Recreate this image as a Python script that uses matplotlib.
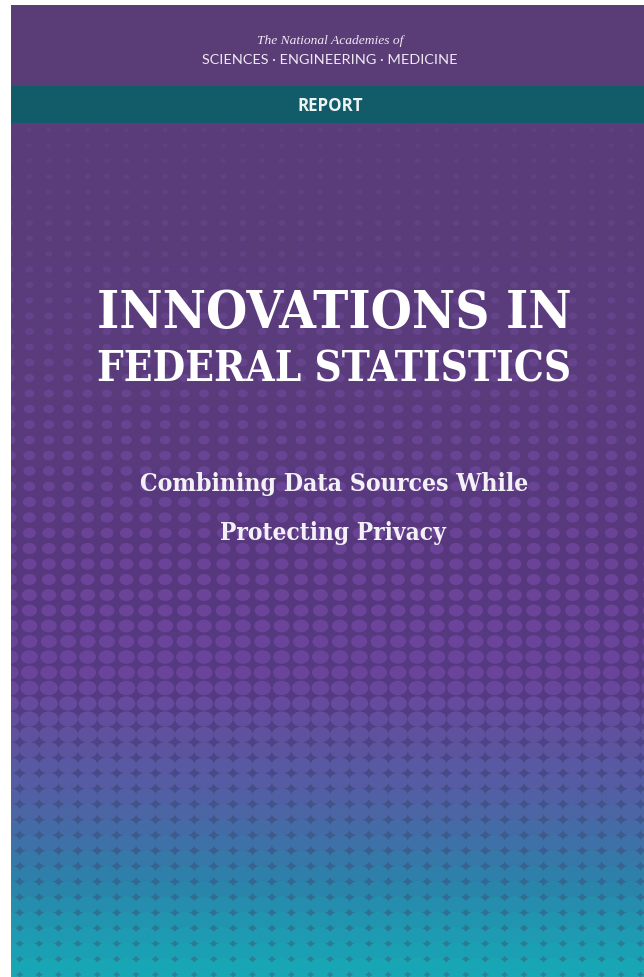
import numpy as np
import matplotlib
matplotlib.use("Agg")
import matplotlib.pyplot as plt
from matplotlib.collections import EllipseCollection
from matplotlib.colors import LinearSegmentedColormap
from matplotlib.patches import Rectangle

# page geometry in pixels (y grows downwards)
W, H = 644, 977
LEFT, TOP = 11, 5
HEADER_BOTTOM = 86
BAND_BOTTOM = 123

header_lines = ["The National Academies of", "SCIENCES \u00b7 ENGINEERING \u00b7 MEDICINE"]
band_label = "REPORT"
title_lines = ["INNOVATIONS IN", "FEDERAL STATISTICS"]
subtitle_lines = ["Combining Data Sources While", "Protecting Privacy"]

# dot size (width in px) for each row of the halftone pattern, top to bottom
dot_row_width = [5, 5, 6, 6, 6, 6, 7, 7, 7, 8, 8, 8,
                 9, 9, 9, 10, 10, 10, 11, 11, 11, 12,
                 12, 12, 13, 13, 13, 14, 14, 14, 15, 15,
                 16, 16, 17, 17, 18, 18, 19,
                 19.6,
                 20, 20.3, 20.5, 20.6, 20.7, 20.8, 20.9, 21,
                 21.2, 21.4, 21.6, 21.8, 22, 22.3, 22.6, 23]

# colour stops (y position, colour) for the background and the dots
bg_stop_y = [123, 400, 600, 700, 760, 820, 880, 940, 977]
bg_stop_c = ["#5a3d7a", "#5a3b7c", "#573880", "#553b84", "#4b4788",
             "#41578c", "#356791", "#2b7a95", "#288397"]
dot_stop_y = [123, 300, 450, 600, 680, 760, 820, 880, 940, 977]
dot_stop_c = ["#5e4180", "#634389", "#684494", "#6b4399", "#6a449b",
              "#5b56a1", "#4a67a6", "#2c81a9", "#1d9cb2", "#18a8b5"]


def make_cmap(name, ys, cs):
    pos = [(y - BAND_BOTTOM) / (H - BAND_BOTTOM) for y in ys]
    return LinearSegmentedColormap.from_list(name, list(zip(pos, cs)))


def fit_width(txt, target):
    """rescale a text so its rendered width equals target pixels"""
    r = fig.canvas.get_renderer()
    w = txt.get_window_extent(r).width
    txt.set_fontsize(txt.get_fontsize() * target / w)


fig = plt.figure(figsize=(W / 100, H / 100), dpi=100)
ax = fig.add_axes([0, 0, 1, 1])

# header and report band
ax.add_patch(Rectangle((LEFT, TOP), W - LEFT, HEADER_BOTTOM - TOP,
                       facecolor="#5a3c77", lw=0, zorder=2))
ax.add_patch(Rectangle((LEFT, HEADER_BOTTOM), W - LEFT, BAND_BOTTOM - HEADER_BOTTOM,
                       facecolor="#125c69", lw=0, zorder=2))

# gradient background of the main panel
bg_cmap = make_cmap("bg", bg_stop_y, bg_stop_c)
ax.imshow(np.linspace(0, 1, 600)[:, None], extent=(LEFT, W, H, BAND_BOTTOM),
          cmap=bg_cmap, aspect="auto", interpolation="bilinear", zorder=1)

# halftone dots
dot_cmap = make_cmap("dots", dot_stop_y, dot_stop_c)
col_x = 10 + 19.4 * np.arange(35)
row_y = 130 + 15.5 * np.arange(len(dot_row_width))
xx, yy = np.meshgrid(col_x, row_y)
ww = np.repeat(np.array(dot_row_width, dtype=float)[:, None], len(col_x), axis=1)
hh = ww * 0.8
cols = dot_cmap(np.clip((yy - BAND_BOTTOM) / (H - BAND_BOTTOM), 0, 1).ravel())
ec = EllipseCollection(ww.ravel(), hh.ravel(), np.zeros(ww.size), units="xy",
                       offsets=np.column_stack([xx.ravel(), yy.ravel()]),
                       offset_transform=ax.transData, facecolors=cols,
                       edgecolors="none", zorder=3)
ax.add_collection(ec)
clip = Rectangle((LEFT, BAND_BOTTOM), W - LEFT, H - BAND_BOTTOM, transform=ax.transData)
ec.set_clip_path(clip)

ax.set_xlim(0, W)
ax.set_ylim(H, 0)
ax.axis("off")

cx = 330
t1 = ax.text(cx, 44, header_lines[0], ha="center", va="baseline", color="#efe9f4",
             family="Liberation Serif", style="italic", fontsize=11, zorder=5)
t2 = ax.text(cx, 64, header_lines[1], ha="center", va="baseline", color="#efe9f4",
             family="Lato", fontsize=11, zorder=5)
t3 = ax.text(cx, 111, band_label, ha="center", va="baseline", color="#eef3f4",
             family="Open Sans", weight="bold", fontsize=12, zorder=5)

tx = 334.5
ttl = [ax.text(tx, 328, title_lines[0], ha="center", va="baseline", color="white",
               family="DejaVu Serif", weight="bold", stretch="condensed", fontsize=30, zorder=5),
       ax.text(tx, 381, title_lines[1], ha="center", va="baseline", color="white",
               family="DejaVu Serif", weight="bold", stretch="condensed", fontsize=30, zorder=5)]
sub = [ax.text(334, 491, subtitle_lines[0], ha="center", va="baseline", color="#f3f0f6",
               family="DejaVu Serif", weight="bold", stretch="condensed", fontsize=15, zorder=5),
       ax.text(333, 540, subtitle_lines[1], ha="center", va="baseline", color="#f3f0f6",
               family="DejaVu Serif", weight="bold", stretch="condensed", fontsize=15, zorder=5)]

fit_width(t1, 146)
fit_width(t2, 253)
fit_width(t3, 65)
fit_width(ttl[0], 475)
fit_width(ttl[1], 475)
fit_width(sub[0], 390)
fit_width(sub[1], 228)

fig.savefig("out.png", dpi=100, facecolor="white")
